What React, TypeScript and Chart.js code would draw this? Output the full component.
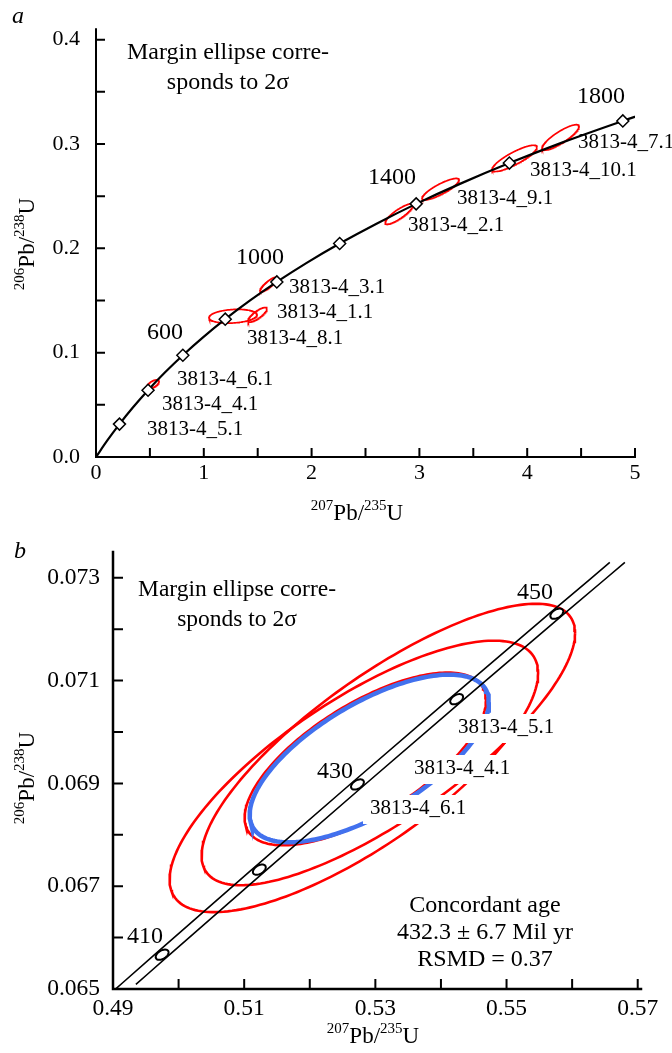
import React, { useEffect, useRef } from 'react';
import { Chart, registerables } from 'chart.js';
Chart.register(...registerables);

const FONT = '"Liberation Serif", "Times New Roman", serif';

// ---------------- Panel a data ----------------
const concordiaAgesA = [0, 100, 200, 300, 400, 500, 600, 700, 800, 900, 1000, 1100, 1200, 1300, 1400, 1500, 1600, 1700, 1800, 1850];
const concordiaXA = [0, 0.1035, 0.2177, 0.3438, 0.4828, 0.6363, 0.8056, 0.9925, 1.1988, 1.4263, 1.6774, 1.9545, 2.2603, 2.5977, 2.9701, 3.381, 3.8344, 4.3348, 4.8869, 5.1839];
const concordiaYA = [0, 0.01563, 0.03151, 0.04764, 0.06402, 0.08065, 0.09754, 0.1147, 0.1321, 0.1498, 0.1678, 0.1861, 0.2046, 0.2234, 0.2426, 0.262, 0.2817, 0.3018, 0.3221, 0.3324];

const markerAgesA = [200, 400, 600, 800, 1000, 1200, 1400, 1600, 1800];
const markerXA = [0.2177, 0.4828, 0.8056, 1.1988, 1.6774, 2.2603, 2.9701, 3.8344, 4.8869];
const markerYA = [0.03151, 0.06402, 0.09754, 0.1321, 0.1678, 0.2046, 0.2426, 0.2817, 0.3221];

const ageLabelsA = ['600', '1000', '1400', '1800'];

const ellNamesA = ['3813-4_6.1', '3813-4_3.1', '3813-4_8.1', '3813-4_1.1', '3813-4_2.1', '3813-4_9.1', '3813-4_10.1', '3813-4_7.1'];
const ellXA = [0.529, 1.6, 1.271, 1.498, 2.811, 3.196, 3.882, 4.309];
const ellYA = [0.0698, 0.1653, 0.1349, 0.1363, 0.2328, 0.2567, 0.2862, 0.3063];
const ellErrXA = [0.056, 0.079, 0.223, 0.088, 0.13, 0.172, 0.209, 0.172];
const ellErrYA = [0.0042, 0.007, 0.0066, 0.007, 0.0098, 0.0103, 0.0126, 0.0122];
const ellRhoA = [0.6, 0.85, 0.2, 0.8, 0.85, 0.85, 0.85, 0.85];

const sampleLabelsA = ['3813-4_3.1', '3813-4_1.1', '3813-4_8.1', '3813-4_6.1', '3813-4_4.1', '3813-4_5.1', '3813-4_2.1', '3813-4_9.1', '3813-4_10.1', '3813-4_7.1'];

const xTickValsA = [0, 1, 2, 3, 4, 5];
const xTickLabelsA = ['0', '1', '2', '3', '4', '5'];
const yTickValsA = [0, 0.1, 0.2, 0.3, 0.4];
const yTickLabelsA = ['0.0', '0.1', '0.2', '0.3', '0.4'];

// ---------------- Panel b data ----------------
const bandUpperX = [0.48898, 0.49634, 0.51116, 0.52612, 0.54124, 0.55651, 0.56574];
const bandUpperY = [0.064841, 0.065667, 0.067322, 0.068979, 0.070638, 0.072301, 0.073299];
const bandLowerX = [0.49349, 0.49864, 0.51346, 0.52842, 0.54354, 0.55881, 0.56804];
const bandLowerY = [0.065089, 0.065667, 0.067322, 0.068979, 0.070638, 0.072301, 0.073299];

const markerAgesB = [410, 420, 430, 440, 450];
const markerXB = [0.49749, 0.51231, 0.52727, 0.54239, 0.55766];
const markerYB = [0.065667, 0.067322, 0.068979, 0.070638, 0.072301];
const markerErrXB = [0.00098, 0.00098, 0.00098, 0.00098, 0.00098];
const markerErrYB = [0.0001, 0.0001, 0.0001, 0.0001, 0.0001];
const markerRhoB = [0.45, 0.45, 0.45, 0.45, 0.45];

const ellNamesB = ['3813-4_4.1', '3813-4_5.1', '3813-4_6.1'];
const ellXB = [0.52672, 0.53198, 0.52847];
const ellYB = [0.069136, 0.069757, 0.069476];
const ellErrXB = [0.02809, 0.02847, 0.0184];
const ellErrYB = [0.002641, 0.002738, 0.00168];
const ellRhoB = [0.76, 0.79, 0.68];

// concordant age ellipse (blue)
const concAgeX = 0.52908;
const concAgeY = 0.069485;
const concAgeErrX = 0.01824;
const concAgeErrY = 0.001631;
const concAgeRho = 0.67;

const sampleLabelsB = ['3813-4_5.1', '3813-4_4.1', '3813-4_6.1'];
const ageLabelsB = ['410', '430', '450'];
const notesB = ['Concordant age', '432.3 ± 6.7 Mil yr', 'RSMD = 0.37'];

const xTickValsB = [0.49, 0.51, 0.53, 0.55, 0.57];
const xTickLabelsB = ['0.49', '0.51', '0.53', '0.55', '0.57'];
const yTickValsB = [0.065, 0.067, 0.069, 0.071, 0.073];
const yTickLabelsB = ['0.065', '0.067', '0.069', '0.071', '0.073'];

// ---------------- helpers ----------------
function ellipseOutline(cx: number, cy: number, ax: number, ay: number, rho: number, n = 200) {
  const s = Math.sqrt(1 - rho * rho);
  const pts: { x: number; y: number }[] = [];
  for (let i = 0; i <= n; i++) {
    const t = (2 * Math.PI * i) / n;
    pts.push({ x: cx + ax * Math.cos(t), y: cy + ay * (rho * Math.cos(t) + s * Math.sin(t)) });
  }
  return pts;
}

function labelFor(vals: number[], labels: string[]) {
  return (v: any) => {
    const i = vals.findIndex((t) => Math.abs(t - Number(v)) < 1e-9);
    return i >= 0 ? labels[i] : '';
  };
}

type Part = { t: string; sup?: boolean };
const isoTitle = (a: string, b: string, c: string, d: string): Part[] => [
  { t: a, sup: true },
  { t: b },
  { t: c, sup: true },
  { t: d },
];

function drawRich(ctx: CanvasRenderingContext2D, parts: Part[], px: number, py: number, rotate: boolean, mainSize: number, supSize: number, raise: number) {
  ctx.save();
  const mf = `${mainSize}px ${FONT}`;
  const sf = `${supSize}px ${FONT}`;
  let w = 0;
  for (const p of parts) {
    ctx.font = p.sup ? sf : mf;
    w += ctx.measureText(p.t).width;
  }
  ctx.translate(px, py);
  if (rotate) ctx.rotate(-Math.PI / 2);
  ctx.fillStyle = '#000';
  ctx.textAlign = 'left';
  ctx.textBaseline = 'alphabetic';
  let x = -w / 2;
  for (const p of parts) {
    ctx.font = p.sup ? sf : mf;
    ctx.fillText(p.t, x, p.sup ? -raise : 0);
    x += ctx.measureText(p.t).width;
  }
  ctx.restore();
}

type TextItem = { t: string; x: number; y: number; size: number; align: CanvasTextAlign; italic?: boolean; box?: boolean };

function drawTexts(ctx: CanvasRenderingContext2D, items: TextItem[]) {
  ctx.save();
  ctx.textBaseline = 'middle';
  for (const it of items) {
    ctx.font = `${it.italic ? 'italic ' : ''}${it.size}px ${FONT}`;
    ctx.textAlign = it.align;
    if (it.box) {
      const w = ctx.measureText(it.t).width;
      const left = it.align === 'left' ? it.x : it.align === 'center' ? it.x - w / 2 : it.x - w;
      ctx.fillStyle = '#fff';
      ctx.fillRect(left - 7, it.y - 13, w + 12, 29);
    }
    ctx.fillStyle = '#000';
    ctx.fillText(it.t, it.x, it.y);
  }
  ctx.restore();
}

function drawAxes(chart: any, axisW: number, tickLen: number, tickW: number) {
  const { ctx, chartArea } = chart;
  const { left, right, top, bottom } = chartArea;
  const sx = chart.scales.x;
  const sy = chart.scales.y;
  ctx.save();
  ctx.strokeStyle = '#000';
  ctx.lineWidth = tickW;
  ctx.beginPath();
  sx.ticks.forEach((t: any) => {
    const p = sx.getPixelForValue(t.value);
    ctx.moveTo(p, bottom);
    ctx.lineTo(p, bottom - tickLen);
  });
  sy.ticks.forEach((t: any) => {
    const p = sy.getPixelForValue(t.value);
    ctx.moveTo(left, p);
    ctx.lineTo(left + tickLen, p);
  });
  ctx.stroke();
  ctx.lineWidth = axisW;
  ctx.lineCap = 'square';
  ctx.beginPath();
  ctx.moveTo(left, top);
  ctx.lineTo(left, bottom);
  ctx.lineTo(right, bottom);
  ctx.stroke();
  ctx.restore();
}

function tickFont(size: number) {
  return { family: FONT, size };
}

function buildA(canvas: HTMLCanvasElement) {
  const ellipseSets = ellXA.map((cx, i) => ({
    label: ellNamesA[i],
    data: ellipseOutline(cx, ellYA[i], ellErrXA[i], ellErrYA[i], ellRhoA[i]),
    showLine: true,
    borderColor: '#ff0000',
    borderWidth: 1.7,
    pointRadius: 0,
    tension: 0,
    order: 3,
  }));
  const texts: TextItem[] = [
    { t: 'a', x: 12, y: 17, size: 24, align: 'left', italic: true },
    { t: 'Margin ellipse corre-', x: 228, y: 53, size: 24, align: 'center' },
    { t: 'sponds to 2σ', x: 228, y: 83, size: 24, align: 'center' },
    { t: ageLabelsA[0], x: 165, y: 333, size: 24, align: 'center' },
    { t: ageLabelsA[1], x: 260, y: 258, size: 24, align: 'center' },
    { t: ageLabelsA[2], x: 392, y: 178, size: 24, align: 'center' },
    { t: ageLabelsA[3], x: 601, y: 97, size: 24, align: 'center' },
    { t: sampleLabelsA[0], x: 289, y: 287, size: 21, align: 'left' },
    { t: sampleLabelsA[1], x: 277, y: 312, size: 21, align: 'left' },
    { t: sampleLabelsA[2], x: 247, y: 338, size: 21, align: 'left' },
    { t: sampleLabelsA[3], x: 177, y: 379, size: 21, align: 'left' },
    { t: sampleLabelsA[4], x: 162, y: 404, size: 21, align: 'left' },
    { t: sampleLabelsA[5], x: 147, y: 429, size: 21, align: 'left' },
    { t: sampleLabelsA[6], x: 408, y: 225, size: 21, align: 'left' },
    { t: sampleLabelsA[7], x: 457, y: 198, size: 21, align: 'left' },
    { t: sampleLabelsA[8], x: 530, y: 170, size: 21, align: 'left' },
    { t: sampleLabelsA[9], x: 578, y: 142, size: 21, align: 'left' },
  ];
  const plugin = {
    id: 'panelA',
    afterDatasetsDraw(chart: any) {
      const ctx = chart.ctx as CanvasRenderingContext2D;
      drawAxes(chart, 2, 9, 2);
      drawTexts(ctx, texts);
      drawRich(ctx, isoTitle('207', 'Pb/', '235', 'U'), 357, 520, false, 23, 15, 10);
      drawRich(ctx, isoTitle('206', 'Pb/', '238', 'U'), 34, 244, true, 23, 15, 10);
    },
  };
  return new Chart(canvas, {
    type: 'scatter',
    data: {
      datasets: [
        {
          label: 'ages',
          data: markerXA.map((x, i) => ({ x, y: markerYA[i] })),
          pointStyle: 'rectRot',
          pointRadius: 6,
          pointBackgroundColor: '#fff',
          pointBorderColor: '#000',
          pointBorderWidth: 1.5,
          showLine: false,
          order: 0,
        } as any,
        {
          label: 'concordia',
          data: concordiaXA.map((x, i) => ({ x, y: concordiaYA[i] })),
          showLine: true,
          borderColor: '#000',
          borderWidth: 2.2,
          pointRadius: 0,
          cubicInterpolationMode: 'monotone',
          order: 1,
        } as any,
        ...(ellipseSets as any[]),
      ],
    },
    options: {
      responsive: false,
      animation: false,
      devicePixelRatio: 1,
      layout: { padding: { left: 0, right: 37, top: 19, bottom: 0 } },
      plugins: { legend: { display: false }, tooltip: { enabled: false } },
      scales: {
        x: {
          type: 'linear',
          min: 0,
          max: 5,
          afterFit: (s: any) => {
            s.height = 68;
          },
          grid: { display: false, drawTicks: false },
          border: { display: false },
          ticks: {
            stepSize: 0.5,
            autoSkip: false,
            includeBounds: false,
            maxRotation: 0,
            padding: 3,
            color: '#000',
            font: tickFont(22),
            callback: labelFor(xTickValsA, xTickLabelsA),
          },
        },
        y: {
          type: 'linear',
          min: 0,
          max: 0.41,
          afterFit: (s: any) => {
            s.width = 96;
          },
          grid: { display: false, drawTicks: false },
          border: { display: false },
          ticks: {
            stepSize: 0.05,
            autoSkip: false,
            includeBounds: false,
            padding: 16,
            color: '#000',
            font: tickFont(22),
            callback: labelFor(yTickValsA, yTickLabelsA),
          },
        },
      },
    } as any,
    plugins: [plugin],
  });
}

function buildB(canvas: HTMLCanvasElement) {
  const redSets = ellXB.map((cx, i) => ({
    label: ellNamesB[i],
    data: ellipseOutline(cx, ellYB[i], ellErrXB[i], ellErrYB[i], ellRhoB[i]),
    showLine: true,
    borderColor: '#ff0000',
    borderWidth: 2.6,
    pointRadius: 0,
    tension: 0,
    order: 3,
  }));
  const texts: TextItem[] = [
    { t: 'b', x: 14, y: 27, size: 24, align: 'left', italic: true },
    { t: 'Margin ellipse corre-', x: 237, y: 65, size: 23.5, align: 'center' },
    { t: 'sponds to 2σ', x: 237, y: 95, size: 23.5, align: 'center' },
    { t: ageLabelsB[0], x: 127, y: 412, size: 24, align: 'left' },
    { t: ageLabelsB[1], x: 317, y: 247, size: 24, align: 'left' },
    { t: ageLabelsB[2], x: 517, y: 68, size: 24, align: 'left' },
    { t: sampleLabelsB[0], x: 458, y: 202, size: 21, align: 'left', box: true },
    { t: sampleLabelsB[1], x: 414, y: 243, size: 21, align: 'left', box: true },
    { t: sampleLabelsB[2], x: 370, y: 283, size: 21, align: 'left', box: true },
    { t: notesB[0], x: 485, y: 381, size: 24, align: 'center' },
    { t: notesB[1], x: 485, y: 408, size: 24, align: 'center' },
    { t: notesB[2], x: 485, y: 435, size: 24, align: 'center' },
  ];
  const plugin = {
    id: 'panelB',
    afterDatasetsDraw(chart: any) {
      const ctx = chart.ctx as CanvasRenderingContext2D;
      const sx = chart.scales.x;
      const sy = chart.scales.y;
      // concordia age markers (small decay-constant ellipses)
      ctx.save();
      ctx.strokeStyle = '#000';
      ctx.fillStyle = '#fff';
      ctx.lineWidth = 2;
      markerXB.forEach((mx, i) => {
        const pts = ellipseOutline(mx, markerYB[i], markerErrXB[i], markerErrYB[i], markerRhoB[i], 60);
        ctx.beginPath();
        pts.forEach((p, k) => {
          const X = sx.getPixelForValue(p.x);
          const Y = sy.getPixelForValue(p.y);
          if (k === 0) ctx.moveTo(X, Y);
          else ctx.lineTo(X, Y);
        });
        ctx.closePath();
        ctx.fill();
        ctx.stroke();
      });
      ctx.restore();
      drawAxes(chart, 2.5, 10, 2);
      drawTexts(ctx, texts);
      drawRich(ctx, isoTitle('207', 'Pb/', '235', 'U'), 373, 518, false, 23, 15, 10);
      drawRich(ctx, isoTitle('206', 'Pb/', '238', 'U'), 34, 253, true, 23, 15, 10);
    },
  };
  return new Chart(canvas, {
    type: 'scatter',
    data: {
      datasets: [
        {
          label: 'band upper',
          data: bandUpperX.map((x, i) => ({ x, y: bandUpperY[i] })),
          showLine: true,
          borderColor: '#000',
          borderWidth: 1.6,
          pointRadius: 0,
          cubicInterpolationMode: 'monotone',
          order: 0,
        } as any,
        {
          label: 'band lower',
          data: bandLowerX.map((x, i) => ({ x, y: bandLowerY[i] })),
          showLine: true,
          borderColor: '#000',
          borderWidth: 1.6,
          pointRadius: 0,
          cubicInterpolationMode: 'monotone',
          order: 0,
        } as any,
        {
          label: 'concordant age',
          data: ellipseOutline(concAgeX, concAgeY, concAgeErrX, concAgeErrY, concAgeRho),
          showLine: true,
          borderColor: '#4271ee',
          borderWidth: 4.5,
          pointRadius: 0,
          tension: 0,
          order: 2,
        } as any,
        ...(redSets as any[]),
      ],
    },
    options: {
      responsive: false,
      animation: false,
      devicePixelRatio: 1,
      layout: { padding: { left: 0, right: 31, top: 27, bottom: 0 } },
      plugins: { legend: { display: false }, tooltip: { enabled: false } },
      scales: {
        x: {
          type: 'linear',
          min: 0.49,
          max: 0.5705,
          afterFit: (s: any) => {
            s.height = 64;
          },
          grid: { display: false, drawTicks: false },
          border: { display: false },
          ticks: {
            stepSize: 0.01,
            autoSkip: false,
            includeBounds: false,
            maxRotation: 0,
            padding: 6,
            color: '#000',
            font: tickFont(23.5),
            callback: labelFor(xTickValsB, xTickLabelsB),
          },
        },
        y: {
          type: 'linear',
          min: 0.065,
          max: 0.0735,
          afterFit: (s: any) => {
            s.width = 113;
          },
          grid: { display: false, drawTicks: false },
          border: { display: false },
          ticks: {
            stepSize: 0.001,
            autoSkip: false,
            includeBounds: false,
            padding: 13,
            color: '#000',
            font: tickFont(23.5),
            callback: labelFor(yTickValsB, yTickLabelsB),
          },
        },
      },
    } as any,
    plugins: [plugin],
  });
}

export default function App() {
  const refA = useRef<HTMLCanvasElement>(null);
  const refB = useRef<HTMLCanvasElement>(null);
  useEffect(() => {
    const a = buildA(refA.current as HTMLCanvasElement);
    const b = buildB(refB.current as HTMLCanvasElement);
    return () => {
      a.destroy();
      b.destroy();
    };
  }, []);
  return (
    <div style={{ position: 'absolute', left: 0, top: 0, width: 672, height: 1053, background: '#fff' }}>
      <canvas ref={refA} width={672} height={525} style={{ position: 'absolute', left: 0, top: 0 }} />
      <canvas ref={refB} width={672} height={528} style={{ position: 'absolute', left: 0, top: 525 }} />
    </div>
  );
}
